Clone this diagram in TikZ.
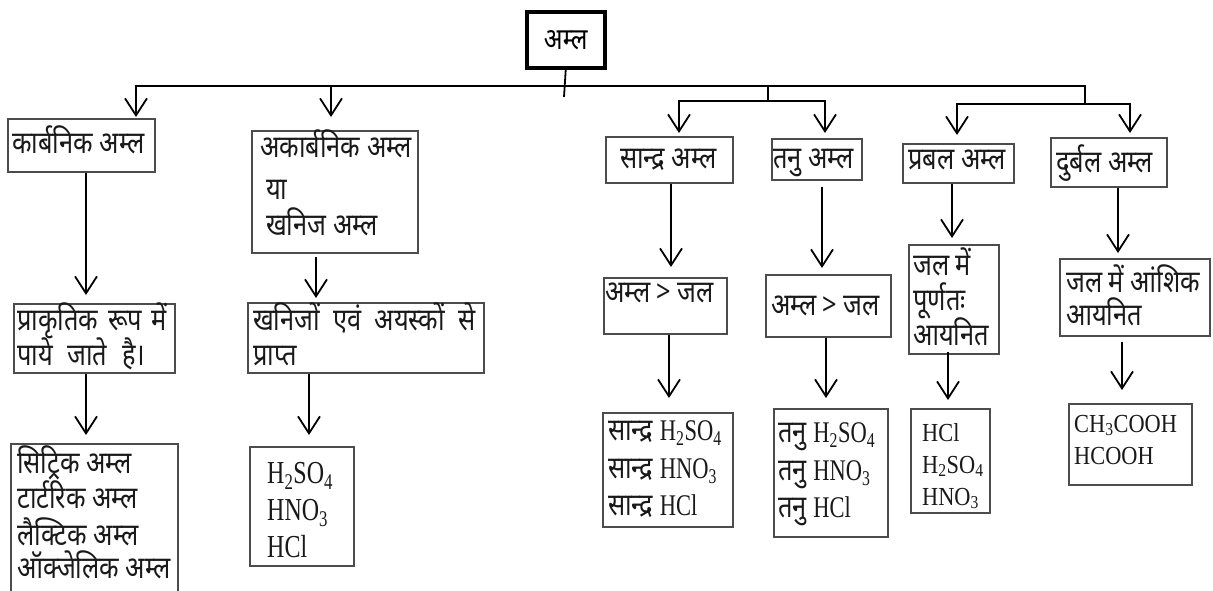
\documentclass[tikz,border=0pt]{standalone}
\usepackage{fontspec}
\setmainfont{Liberation Serif}
\newfontfamily\dev[Script=Devanagari,FakeStretch=0.82]{Noto Sans}
\newfontfamily\tms[FakeStretch=0.75]{Liberation Serif}
\newfontfamily\tmsw[FakeStretch=0.86]{Liberation Serif}
\usetikzlibrary{arrows.meta}
\newcommand\subx[1]{\textsubscript{#1}}
\newcommand\chemA[1]{{\tms\fontsize{30}{32}\selectfont #1}}
\tikzset{
  ln/.style={line width=1.8pt, draw=black},
  arr/.style={ln, -{Straight Barb[length=17pt,width=22pt,line width=1.8pt]}},
  box/.style={draw=black!70, line width=1.5pt, inner sep=0pt, anchor=north west},
  rootbox/.style={draw=black, line width=3.5pt, inner sep=0pt, anchor=north west,
    font=\dev\fontsize{30}{32}\selectfont},
  txt/.style={inner sep=0pt, anchor=base west, text=black!90, font=\dev\fontsize{31}{33}\selectfont},
  chm/.style={txt, font=\tms\fontsize{32}{34}\selectfont},
  chms/.style={txt, font=\tmsw\fontsize{26}{28}\selectfont},
}
\newcommand\bx[5]{\node[box, minimum width=#4pt, minimum height=#5pt] (#1) at (#2,#3) {};}
\begin{document}
\begin{tikzpicture}[x=1pt,y=-1pt]
\useasboundingbox (0,0) rectangle (1213,590);
% boxes
\node[rootbox, minimum width=78pt, minimum height=56pt] (root) at (525,10) {अम्ल};
\bx{org}{7}{118}{147}{53}
\bx{inorg}{251}{130}{166}{122}
\bx{natural}{13}{303}{161}{69}
\bx{mineral}{247}{302}{236}{70}
\bx{citric}{10}{443}{167}{160}
\bx{chemA}{249}{446}{104}{119}
\bx{sandra}{605}{136}{127}{46}
\bx{tanu}{771}{138}{90}{41}
\bx{prabal}{902}{143}{111}{39}
\bx{durbal}{1050}{137}{116}{49}
\bx{gtA}{603}{277}{123}{56}
\bx{gtB}{765}{274}{125}{62}
\bx{full}{908}{244}{90}{109}
\bx{partial}{1059}{258}{150}{77}
\bx{conc}{602}{412}{130}{114}
\bx{dil}{773}{408}{114}{128}
\bx{strong}{910}{408}{79}{104}
\bx{weak}{1068}{403}{123}{81}
% texts
\node[txt] (t1) at (12,153) {कार्बनिक अम्ल};
\node[txt] (t2a) at (260,157) {अकार्बनिक अम्ल};
\node[txt] (t2b) at (266,199) {या};
\node[txt] (t2c) at (266,235) {खनिज अम्ल};
\node[txt] (t3a) at (17,330) {\makebox[150pt][s]{प्राकृतिक रूप में}};
\node[txt] (t3b) at (17,365) {\makebox[128pt][s]{पाये जाते है।}};
\node[txt] (t4a) at (253,330) {\makebox[222pt][s]{खनिजों एवं अयस्कों से}};
\node[txt] (t4b) at (253,365) {प्राप्त};
\node[txt] (t5a) at (17,473) {सिट्रिक अम्ल};
\node[txt] (t5b) at (17,508) {टार्टरिक अम्ल};
\node[txt] (t5c) at (17,545) {लैक्टिक अम्ल};
\node[txt] (t5d) at (17,578) {ऑक्जेलिक अम्ल};
\node[chm] (t6a) at (267,483) {H\subx{2}SO\subx{4}};
\node[chm] (t6b) at (267,520) {HNO\subx{3}};
\node[chm] (t6c) at (267,557) {HCl};
\node[txt] (t7) at (620,168) {सान्द्र अम्ल};
\node[txt] (t8) at (773,168) {तनु अम्ल};
\node[txt] (t9) at (908,169) {प्रबल अम्ल};
\node[txt] (t10) at (1056,172) {दुर्बल अम्ल};
\node[txt] (t11) at (605,302) {अम्ल > जल};
\node[txt] (t12) at (771,315) {अम्ल > जल};
\node[txt] (t13a) at (913,275) {जल में};
\node[txt] (t13b) at (913,310) {पूर्णतः};
\node[txt] (t13c) at (913,345) {आयनित};
\node[txt] (t14a) at (1066,292) {जल में आंशिक};
\node[txt] (t14b) at (1066,325) {आयनित};
\node[txt] (t15a) at (608,440) {सान्द्र \chemA{H\subx{2}SO\subx{4}}};
\node[txt] (t15b) at (608,478) {सान्द्र \chemA{HNO\subx{3}}};
\node[txt] (t15c) at (608,515) {सान्द्र \chemA{HCl}};
\node[txt] (t16a) at (778,442) {तनु \chemA{H\subx{2}SO\subx{4}}};
\node[txt] (t16b) at (778,480) {तनु \chemA{HNO\subx{3}}};
\node[txt] (t16c) at (778,517) {तनु \chemA{HCl}};
\node[chms] (t17a) at (922,441) {HCl};
\node[chms] (t17b) at (922,473) {H\subx{2}SO\subx{4}};
\node[chms] (t17c) at (922,505) {HNO\subx{3}};
\node[chms] (t18a) at (1074,432) {CH\subx{3}COOH};
\node[chms] (t18b) at (1074,464) {HCOOH};
% junctions
\coordinate (stemEnd) at (564,97);
\coordinate (jA) at (136,86);
\coordinate (jB) at (331,86);
\coordinate (jM) at (768,86);
\coordinate (jR) at (1085,86);
\coordinate (mJ) at (768,101);
\coordinate (mL) at (679,101);
\coordinate (mR) at (825,101);
\coordinate (rJ) at (1085,104);
\coordinate (rL) at (957,104);
\coordinate (rR) at (1130,104);
% trunk
\draw[ln] (root.south) -- (stemEnd);
\draw[ln] (jA) -- (jR) -- (rJ);
\draw[ln] (jM) -- (mJ);
\draw[arr, shorten >=1pt] (jB) -- (jA) -- (jA |- org.north);
\draw[arr, shorten >=13pt] (jB) -- (jB |- inorg.north);
\draw[arr, shorten >=3pt] (mJ) -- (mL) -- (mL |- sandra.north);
\draw[arr, shorten >=5pt] (mJ) -- (mR) -- (mR |- tanu.north);
\draw[arr, shorten >=8pt] (rJ) -- (rL) -- (rL |- prabal.north);
\draw[arr, shorten >=4pt] (rJ) -- (rR) -- (rR |- durbal.north);
% second level
\draw[arr, shorten >=8pt] ([xshift=79pt]org.south west) -- ([xshift=73pt]natural.north west);
\draw[arr, shorten <=3pt, shorten >=4pt] ([xshift=65pt]inorg.south west) -- ([xshift=69pt]mineral.north west);
\draw[arr, shorten >=8pt] ([xshift=73pt]natural.south west) -- ([xshift=76pt]citric.north west);
\draw[arr, shorten >=11pt] ([xshift=62pt]mineral.south west) -- ([xshift=60pt]chemA.north west);
\draw[arr, shorten >=10pt] ([xshift=66pt]sandra.south west) -- ([xshift=68pt]gtA.north west);
\draw[arr, shorten <=6pt, shorten >=6pt] ([xshift=51pt]tanu.south west) -- ([xshift=57pt]gtB.north west);
\draw[arr, shorten >=6pt] ([xshift=50pt]prabal.south west) -- ([xshift=44pt]full.north west);
\draw[arr, shorten >=5pt] ([xshift=68pt]durbal.south west) -- ([xshift=59pt]partial.north west);
\draw[arr, shorten >=14pt] ([xshift=66pt]gtA.south west) -- ([xshift=67pt]conc.north west);
\draw[arr, shorten >=10pt] ([xshift=61pt]gtB.south west) -- ([xshift=53pt]dil.north west);
\draw[arr, shorten <=-3pt, shorten >=8pt] ([xshift=40pt]full.south west) -- ([xshift=38pt]strong.north west);
\draw[arr, shorten <=5pt, shorten >=13pt] ([xshift=63pt]partial.south west) -- ([xshift=54pt]weak.north west);
\end{tikzpicture}
\end{document}
